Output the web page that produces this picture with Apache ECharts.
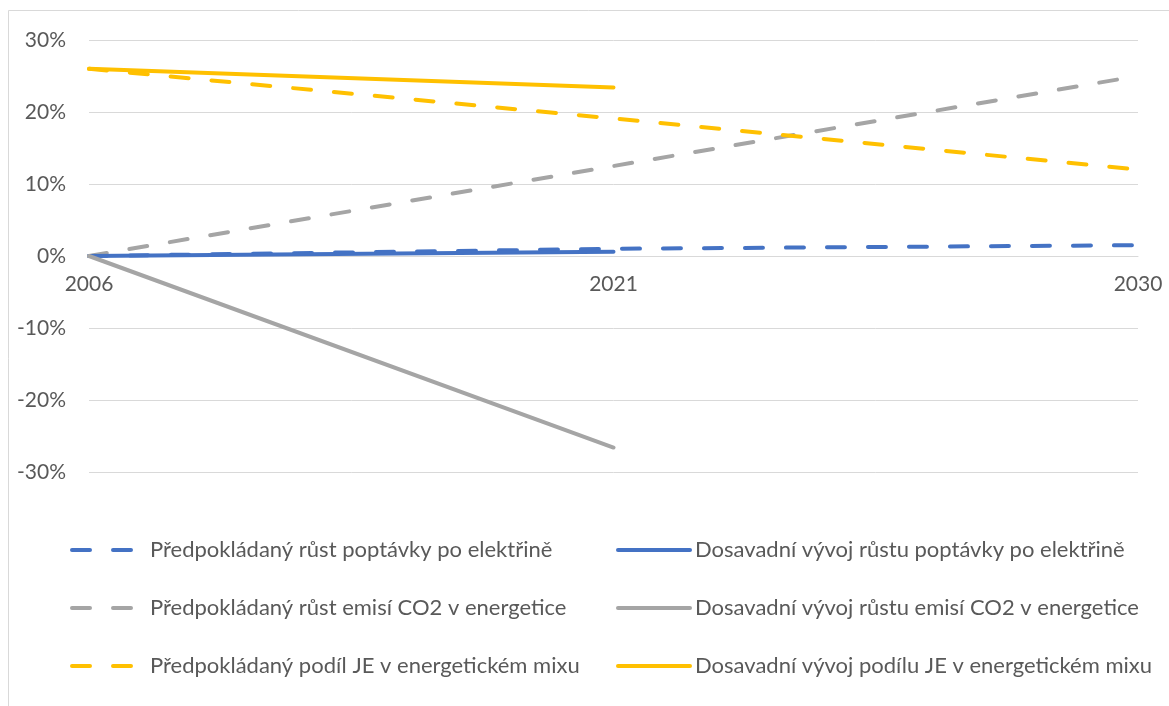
<!DOCTYPE html>
<html>
<head>
<meta charset="utf-8">
<script src="https://cdn.jsdelivr.net/npm/echarts@6/dist/echarts.min.js"></script>
<style>html,body{margin:0;padding:0;background:#fff}#c{width:1169px;height:706px}</style>
</head>
<body>
<div id="c"></div>
<script>
const years = ['2006', '2021', '2030'];
const yTicks = [-30, -20, -10, 0, 10, 20, 30];

const names = [
  'Předpokládaný růst poptávky po elektřině',
  'Dosavadní vývoj růstu poptávky po elektřině',
  'Předpokládaný růst emisí CO2 v energetice',
  'Dosavadní vývoj růstu emisí CO2 v energetice',
  'Předpokládaný podíl JE v energetickém mixu',
  'Dosavadní vývoj podílu JE v energetickém mixu'
];

const demandForecast = [0, 1.0, 1.5];
const demandActual = [0, 0.6, null];
const co2Forecast = [0, 12.5, 25.0];
const co2Actual = [0, -26.6, null];
const nuclearForecast = [26.0, 19.1, 12.0];
const nuclearActual = [26.0, 23.4, null];

const seriesData = [demandForecast, demandActual, co2Forecast, co2Actual, nuclearForecast, nuclearActual];
const colors = ['#4472C4', '#4472C4', '#A5A5A5', '#A5A5A5', '#FFC000', '#FFC000'];
const dashed = [true, false, true, false, true, false];

const FONT = 'Lato';
const TXT = '#595959';
const DASH = [18, 23];

const series = seriesData.map((d, i) => ({
  name: names[i],
  type: 'line',
  data: d,
  symbol: 'none',
  connectNulls: false,
  z: dashed[i] ? 2 : 3,
  lineStyle: {
    color: colors[i],
    width: 4,
    type: dashed[i] ? DASH : 'solid',
    cap: 'round',
    join: 'round'
  },
  itemStyle: { color: colors[i] }
}));

const rowCenters = [550, 608, 666];
const legends = names.map((n, i) => {
  const col = i % 2;
  const row = Math.floor(i / 2);
  return {
    data: [n],
    left: col === 0 ? 70 : 616,
    top: rowCenters[row] - 12,
    itemWidth: col === 0 ? 65 : 72,
    itemHeight: 24,
    padding: 0,
    selectedMode: false,
    itemStyle: { opacity: 0 },
    lineStyle: { width: 4, cap: 'round', type: dashed[i] ? DASH : 'solid' },
    textStyle: {
      fontFamily: FONT,
      fontSize: 22,
      color: TXT,
      lineHeight: 24,
      padding: col === 0 ? [0, 0, 0, 8] : 0
    }
  };
});

const chart = echarts.init(document.getElementById('c'), null, { renderer: 'canvas' });
chart.setOption({
  animation: false,
  backgroundColor: '#fff',
  color: colors,
  grid: { left: 89, right: 31, top: 40, bottom: 234, containLabel: false },
  xAxis: {
    type: 'category',
    data: years,
    boundaryGap: false,
    position: 'bottom',
    offset: -216,
    axisLine: { onZero: false, lineStyle: { color: '#D9D9D9', width: 1 } },
    axisTick: { show: false },
    axisLabel: { color: TXT, fontFamily: FONT, fontSize: 21, margin: 18 },
    splitLine: { show: false }
  },
  yAxis: {
    type: 'value',
    min: yTicks[0],
    max: yTicks[yTicks.length - 1],
    interval: 10,
    axisLine: { show: false },
    axisTick: { show: false },
    axisLabel: { color: TXT, fontFamily: FONT, fontSize: 21, margin: 23, formatter: v => v + '%' },
    splitLine: { lineStyle: { color: '#D9D9D9', width: 1 } }
  },
  legend: legends,
  graphic: [
    { type: 'line', shape: { x1: 8.5, y1: 10.5, x2: 1169, y2: 10.5 }, style: { stroke: '#D9D9D9', lineWidth: 1 }, silent: true },
    { type: 'line', shape: { x1: 8.5, y1: 10.5, x2: 8.5, y2: 706 }, style: { stroke: '#D9D9D9', lineWidth: 1 }, silent: true }
  ],
  series: series
});
</script>
</body>
</html>
